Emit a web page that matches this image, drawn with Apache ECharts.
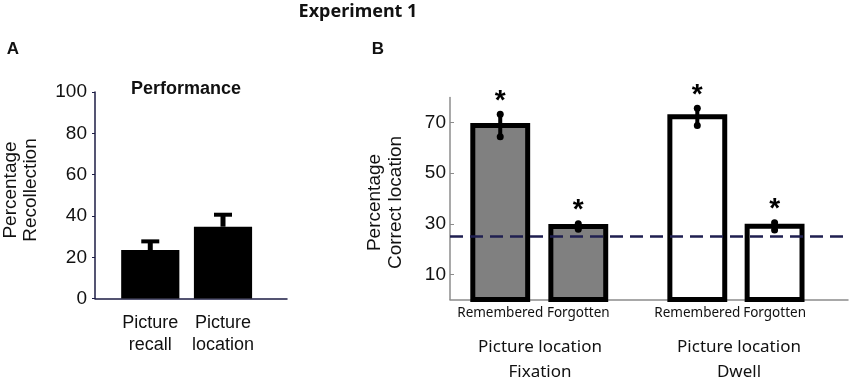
<!DOCTYPE html>
<html>
<head>
<meta charset="utf-8">
<script src="https://cdn.jsdelivr.net/npm/echarts@6/dist/echarts.min.js"></script>
<style>
html, body { margin: 0; background: #fff; }
#chart { width: 850px; height: 383px; }
</style>
</head>
<body>
<div id="chart"></div>
<script>
// panel A - performance
const perfCats = ['Picture\nrecall', 'Picture\nlocation']
const perfMean = [23.5, 34.8]
const perfErr = [4.2, 5.8]
const perfTicks = [0, 20, 40, 60, 80, 100]

// panel B - correct location
const locCats = ['Remembered', 'Forgotten', 'Remembered', 'Forgotten']
const locGroups = ['Fixation', 'Fixation', 'Dwell', 'Dwell']
const locMean = [68.9, 28.9, 72.3, 29.0]
const locErr = [4.45, 1.1, 3.45, 1.45]
const locTicks = [10, 30, 50, 70]
const chanceLevel = 25

// slot positions on the (hidden) value x axes
const aSlots = [0.76, 1.76]
const bSlots = [1.3, 3.32, 6.4, 8.4]

const SANS = '"Liberation Sans", Arial, sans-serif'
const UI = '"Noto Sans", sans-serif'
const navy = '#1c1c44'
const grey = '#8c8c8c'

const slotLabel = (slots, cats) => v => {
  const i = slots.findIndex(s => Math.abs(s - v) < 1e-6)
  return i < 0 ? '' : cats[i]
}

function perfBar(params, api) {
  const x = api.value(0), v = api.value(1), e = api.value(2)
  const tl = api.coord([x - 0.4, v]), br = api.coord([x + 0.4, 0])
  const top = api.coord([x, v + e])
  return { type: 'group', children: [
    { type: 'rect', shape: { x: tl[0], y: tl[1], width: br[0] - tl[0], height: br[1] - tl[1] }, style: { fill: '#000' } },
    { type: 'line', shape: { x1: top[0], y1: tl[1], x2: top[0], y2: top[1] }, style: { stroke: '#000', lineWidth: 5 } },
    { type: 'line', shape: { x1: top[0] - 9, y1: top[1], x2: top[0] + 9, y2: top[1] }, style: { stroke: '#000', lineWidth: 4 } }
  ] }
}

function locBar(params, api) {
  const i = params.dataIndex
  const x = api.value(0), v = api.value(1), e = api.value(2)
  const tl = api.coord([x - 0.71, v]), br = api.coord([x + 0.71, 0])
  const hi = api.coord([x, v + e]), lo = api.coord([x, v - e])
  const fill = locGroups[i] === 'Fixation' ? '#808080' : '#fff'
  return { type: 'group', children: [
    { type: 'rect', shape: { x: tl[0], y: tl[1], width: br[0] - tl[0], height: br[1] - tl[1] },
      style: { fill, stroke: '#000', lineWidth: 5 } },
    { type: 'line', shape: { x1: hi[0], y1: hi[1], x2: lo[0], y2: lo[1] }, style: { stroke: '#000', lineWidth: 4 } },
    { type: 'circle', shape: { cx: hi[0], cy: hi[1], r: 3.5 }, style: { fill: '#000' } },
    { type: 'circle', shape: { cx: lo[0], cy: lo[1], r: 3.5 }, style: { fill: '#000' } },
    { type: 'text', x: hi[0], y: hi[1] - 13,
      style: { text: '*', font: 'bold 28px ' + SANS, fill: '#000', textAlign: 'center', textVerticalAlign: 'middle' } }
  ] }
}

const chart = echarts.init(document.getElementById('chart'))

chart.setOption({
  animation: false,
  grid: [
    { left: 95, right: 563, top: 92, bottom: 84.4 },
    { left: 450, right: 2, top: 97.4, bottom: 83.4 }
  ],
  xAxis: [
    { gridIndex: 0, type: 'value', min: 0, max: 2.64,
      axisLine: { lineStyle: { color: navy, width: 1.5 } }, axisTick: { show: false }, splitLine: { show: false },
      axisLabel: { customValues: aSlots, formatter: slotLabel(aSlots, perfCats), color: '#111',
        fontSize: 18, fontFamily: SANS, lineHeight: 22, margin: 13 } },
    { gridIndex: 1, type: 'value', min: 0, max: 10.3,
      axisLine: { lineStyle: { color: grey, width: 1.5 } }, axisTick: { show: false }, splitLine: { show: false },
      axisLabel: { customValues: bSlots, formatter: slotLabel(bSlots, locCats), color: '#111',
        fontSize: 13.5, fontFamily: UI, lineHeight: 16, margin: 6 } }
  ],
  yAxis: [
    { gridIndex: 0, type: 'value', min: 0, max: 100,
      axisLine: { show: true, lineStyle: { color: navy, width: 1.5 } },
      axisTick: { show: true, length: 3, customValues: perfTicks, lineStyle: { color: navy } },
      splitLine: { show: false },
      axisLabel: { customValues: perfTicks, color: '#111', fontSize: 19, fontFamily: SANS, margin: 8 } },
    { gridIndex: 1, type: 'value', min: 0, max: 80,
      axisLine: { show: true, lineStyle: { color: grey, width: 1.5 } },
      axisTick: { show: true, inside: true, length: 4, customValues: locTicks, lineStyle: { color: grey } },
      splitLine: { show: false },
      axisLabel: { customValues: locTicks, color: '#111', fontSize: 19, fontFamily: SANS, margin: 4 } }
  ],
  series: [
    { type: 'custom', xAxisIndex: 0, yAxisIndex: 0, renderItem: perfBar,
      encode: { x: 0, y: 1 }, data: perfMean.map((m, i) => [aSlots[i], m, perfErr[i]]) },
    { type: 'custom', xAxisIndex: 1, yAxisIndex: 1, renderItem: locBar,
      encode: { x: 0, y: 1 }, data: locMean.map((m, i) => [bSlots[i], m, locErr[i]]) },
    { type: 'line', xAxisIndex: 1, yAxisIndex: 1, data: [], z: 5,
      markLine: { silent: true, symbol: 'none', label: { show: false },
        lineStyle: { color: '#1f1f50', width: 2.5, type: [13, 7] },
        data: [{ yAxis: chanceLevel }] } }
  ],
  graphic: [
    { type: 'text', x: 358, y: 12, style: { text: 'Experiment 1', font: 'bold 18px ' + UI, fill: '#111', textAlign: 'center', textVerticalAlign: 'middle' } },
    { type: 'text', x: 13, y: 49, style: { text: 'A', font: 'bold 17px ' + SANS, fill: '#111', textAlign: 'center', textVerticalAlign: 'middle' } },
    { type: 'text', x: 378, y: 49, style: { text: 'B', font: 'bold 17px ' + SANS, fill: '#111', textAlign: 'center', textVerticalAlign: 'middle' } },
    { type: 'text', x: 186, y: 89, style: { text: 'Performance', font: 'bold 18px ' + SANS, fill: '#111', textAlign: 'center', textVerticalAlign: 'middle' } },
    { type: 'text', x: 21, y: 190, rotation: Math.PI / 2,
      style: { text: 'Percentage\nRecollection', font: '19px ' + SANS, lineHeight: 20, fill: '#111', textAlign: 'center', textVerticalAlign: 'middle' } },
    { type: 'text', x: 385, y: 202.5, rotation: Math.PI / 2,
      style: { text: 'Percentage\nCorrect location', font: '19px ' + SANS, lineHeight: 21, fill: '#111', textAlign: 'center', textVerticalAlign: 'middle' } },
    { type: 'text', x: 540, y: 360, style: { text: 'Picture location\n' + locGroups[0], font: '17px ' + UI, lineHeight: 25, fill: '#111', textAlign: 'center', textVerticalAlign: 'middle' } },
    { type: 'text', x: 739, y: 360, style: { text: 'Picture location\n' + locGroups[2], font: '17px ' + UI, lineHeight: 25, fill: '#111', textAlign: 'center', textVerticalAlign: 'middle' } }
  ]
})
</script>
</body>
</html>
